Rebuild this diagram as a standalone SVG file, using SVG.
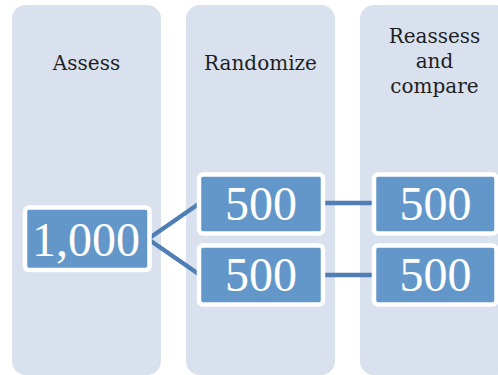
<svg xmlns="http://www.w3.org/2000/svg" width="498" height="375" viewBox="0 0 498 375">
<style>
.col{fill:#D9E0EE}
.title{font-family:"DejaVu Serif","Liberation Serif",serif;font-size:20px;fill:#1f1f1f;text-anchor:middle}
.box{fill:#6397C9;stroke:#FFFFFF;stroke-width:4.5}
.num{font-family:"Liberation Serif","Times New Roman",serif;font-size:48px;fill:#FFFFFF;text-anchor:middle}
.conn{stroke:#4E7EB3;stroke-width:4.5;fill:none}
</style>
<rect width="498" height="375" fill="#FFFFFF"/>
<g id="col-assess"><rect class="col" x="12" y="5" width="149" height="370" rx="14"/><text class="title" x="86.5" y="70">Assess</text></g>
<g id="col-randomize"><rect class="col" x="186" y="5" width="149" height="370" rx="14"/><text class="title" x="260.5" y="70">Randomize</text></g>
<g id="col-reassess"><rect class="col" x="360" y="5" width="149" height="370" rx="14"/><text class="title" x="434.5" y="43">Reassess</text><text class="title" x="434.5" y="68">and</text><text class="title" x="434.5" y="93">compare</text></g>
<g id="connectors">
<line class="conn" x1="148" y1="239" x2="200" y2="203"/>
<line class="conn" x1="148" y1="239" x2="200" y2="275"/>
<line class="conn" x1="322" y1="203" x2="376" y2="203"/>
<line class="conn" x1="322" y1="275" x2="376" y2="275"/>
</g>
<g id="n1000"><rect class="box" x="25" y="207.5" width="124.5" height="62.5" rx="4"/><text class="num" x="86" y="256">1,000</text></g>
<g id="n500a"><rect class="box" x="199" y="174.5" width="124" height="59" rx="4"/><text class="num" x="261" y="220">500</text></g>
<g id="n500b"><rect class="box" x="199" y="245.5" width="124" height="59" rx="4"/><text class="num" x="261" y="291">500</text></g>
<g id="n500c"><rect class="box" x="374" y="174.5" width="122.5" height="59" rx="4"/><text class="num" x="435.5" y="220">500</text></g>
<g id="n500d"><rect class="box" x="374" y="245.5" width="122.5" height="59" rx="4"/><text class="num" x="435.5" y="291">500</text></g>
</svg>
